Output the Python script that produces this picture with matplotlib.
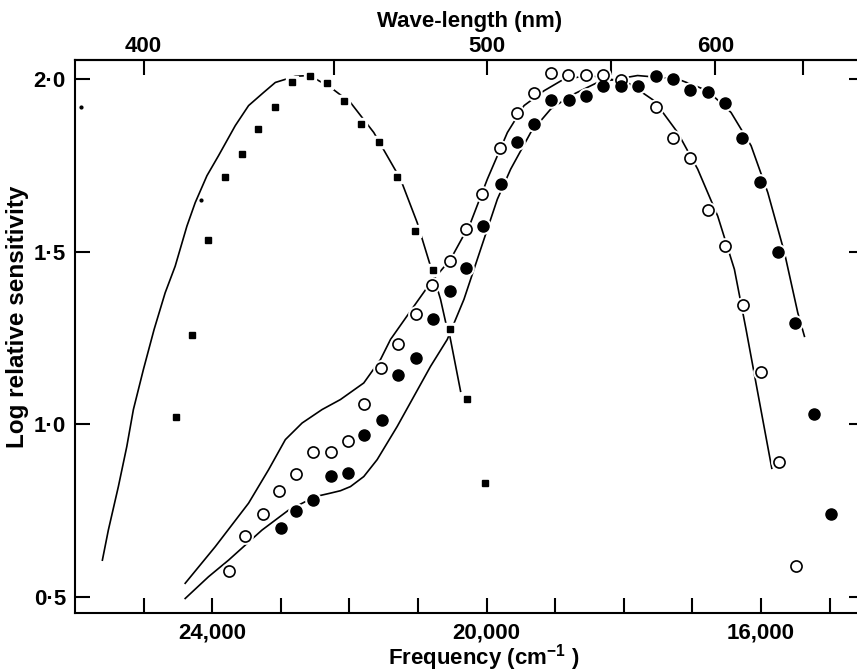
import matplotlib
matplotlib.use("Agg")
import matplotlib.pyplot as plt

plt.rcParams["font.family"] = ["Liberation Sans", "DejaVu Sans"]
plt.rcParams["font.weight"] = "bold"
plt.rcParams["mathtext.fontset"] = "custom"
plt.rcParams["mathtext.rm"] = "Liberation Sans:bold"
plt.rcParams["mathtext.default"] = "rm"

# Measured points (frequency in cm-1, log relative sensitivity)
square_freq = [24521, 24296, 24058, 23820, 23572, 23333, 23080, 22832, 22580,
               22331, 22083, 21830, 21567, 21304, 21041, 20788, 20536, 20282,
               20025]
square_val = [1.020, 1.259, 1.533, 1.716, 1.782, 1.856, 1.920, 1.991, 2.008,
              1.989, 1.937, 1.869, 1.819, 1.716, 1.561, 1.446, 1.275, 1.074,
              0.831]

open_freq = [23762, 23518, 23266, 23022, 22778, 22536, 22273, 22025, 21791,
             21537, 21285, 21032, 20793, 20536, 20302, 20063, 19806, 19562,
             19309, 19066, 18813, 18555, 18302, 18044, 17528, 17280, 17032,
             16778, 16521, 16258, 16000, 15742, 15489]
open_val = [0.576, 0.677, 0.741, 0.808, 0.857, 0.919, 0.919, 0.951, 1.060,
            1.162, 1.234, 1.321, 1.405, 1.474, 1.565, 1.666, 1.799, 1.903,
            1.959, 2.016, 2.012, 2.012, 2.012, 1.998, 1.920, 1.829, 1.770,
            1.620, 1.516, 1.345, 1.153, 0.892, 0.590]

filled_freq = [22997, 22774, 22530, 22273, 22025, 21781, 21528, 21285, 21032,
               20788, 20536, 20302, 20054, 19796, 19552, 19309, 19066, 18807,
               18555, 18297, 18044, 17791, 17533, 17289, 17032, 16778, 16526,
               16277, 16010, 15756, 15504, 15236, 14978]
filled_val = [0.699, 0.748, 0.780, 0.851, 0.859, 0.970, 1.012, 1.143, 1.193,
              1.304, 1.386, 1.454, 1.574, 1.697, 1.819, 1.869, 1.940, 1.940,
              1.952, 1.981, 1.981, 1.981, 2.008, 2.000, 1.969, 1.961, 1.930,
              1.829, 1.702, 1.500, 1.294, 1.030, 0.740]

speck_freq = [25917, 24161]
speck_val = [1.918, 1.651]

# Fitted curves
square_curve_freq = [25601, 25514, 25368, 25245, 25149, 25003, 24847, 24686,
                     24540, 24369, 24248, 24077, 23908, 23664, 23470, 23251,
                     23080, 22788, 22580, 22277, 21985, 21645, 21255, 21012,
                     20818, 20672, 20574, 20536, 20380]
square_curve_val = [0.607, 0.694, 0.820, 0.936, 1.043, 1.159, 1.275, 1.381,
                    1.458, 1.574, 1.642, 1.720, 1.778, 1.865, 1.923, 1.961,
                    1.990, 2.008, 2.010, 1.976, 1.932, 1.845, 1.710, 1.584,
                    1.458, 1.362, 1.275, 1.255, 1.096]

open_curve_freq = [24394, 23956, 23470, 23178, 22934, 22690, 22399, 22131,
                   21791, 21547, 21401, 21061, 20818, 20526, 20234, 19990,
                   19698, 19455, 19163, 18871, 18482, 17946, 17557, 17216,
                   16924, 16632, 16389, 16219, 16030, 15844]
open_curve_val = [0.540, 0.646, 0.772, 0.869, 0.956, 1.004, 1.043, 1.072,
                  1.120, 1.188, 1.246, 1.342, 1.410, 1.478, 1.584, 1.710,
                  1.845, 1.923, 1.966, 2.000, 2.010, 1.990, 1.937, 1.845,
                  1.739, 1.603, 1.449, 1.275, 1.072, 0.873]

filled_curve_freq = [24394, 24054, 23762, 23275, 22886, 22496, 22277, 22131,
                     21985, 21791, 21596, 21450, 21304, 21061, 20818, 20574,
                     20331, 20039, 19844, 19650, 19358, 19066, 18774, 18384,
                     17801, 17216, 16778, 16438, 16146, 15902, 15659, 15465,
                     15368]
filled_curve_val = [0.496, 0.559, 0.607, 0.694, 0.752, 0.791, 0.801, 0.808,
                    0.820, 0.849, 0.898, 0.946, 0.994, 1.081, 1.168, 1.246,
                    1.362, 1.536, 1.652, 1.739, 1.845, 1.913, 1.952, 1.990,
                    2.010, 2.000, 1.966, 1.903, 1.807, 1.671, 1.497, 1.323,
                    1.255]

# Axis ticks
freq_ticks = [25000, 24000, 23000, 22000, 21000, 20000, 19000, 18000, 17000,
              16000, 15000]
freq_labels = ["", "24,000", "", "", "", "20,000", "", "", "", "16,000", ""]
wl_ticks = [400, 450, 500, 550, 600, 650]
wl_labels = ["400", "", "500", "", "600", ""]
y_ticks = [0.5, 1.0, 1.5, 2.0]
y_labels = ["0·5", "1·0", "1·5", "2·0"]

fig = plt.figure(figsize=(8.57, 6.71), dpi=100)
ax = fig.add_axes([75 / 857, 58 / 671, 789 / 857, 553 / 671])

lw = 1.2
ax.plot(square_curve_freq, square_curve_val, color="black", lw=lw, zorder=1)
ax.plot(open_curve_freq, open_curve_val, color="black", lw=lw, zorder=1)
ax.plot(filled_curve_freq, filled_curve_val, color="black", lw=lw, zorder=1)

# white halos break the curves around the symbols, as in the drawing
ax.plot(square_freq, square_val, "s", ms=8, color="white", zorder=2)
ax.plot(open_freq, open_val, "o", ms=11, color="white", zorder=2)
ax.plot(filled_freq, filled_val, "o", ms=11, color="white", zorder=2)

ax.plot(square_freq, square_val, "s", ms=5, color="black", zorder=3)
ax.plot(open_freq, open_val, "o", ms=8, mfc="white", mec="black", mew=1.2,
        zorder=3)
ax.plot(filled_freq, filled_val, "o", ms=8, color="black", zorder=3)
ax.plot(speck_freq, speck_val, "o", ms=2, color="black", zorder=3)

ax.set_xlim(26000, 14500)
ax.set_ylim(0.454, 2.055)

for s in ax.spines.values():
    s.set_linewidth(1.5)

ax.set_xticks(freq_ticks)
ax.set_xticklabels(freq_labels)
ax.set_yticks(y_ticks)
ax.set_yticklabels(y_labels)
ax.tick_params(axis="both", direction="in", length=11, width=1.5,
               labelsize=16, right=True)
ax.tick_params(axis="x", pad=7)
ax.tick_params(axis="y", pad=6.5)

top = ax.secondary_xaxis("top", functions=(lambda f: 1e7 / f,
                                            lambda w: 1e7 / w))
top.set_xticks(wl_ticks)
top.set_xticklabels(wl_labels)
top.tick_params(direction="in", length=11, width=1.5, labelsize=16, pad=2.5)
top.spines["top"].set_linewidth(1.5)
top.set_xlabel("Wave-length (nm)", fontsize=16, fontweight="bold", labelpad=6)

ax.set_xlabel("Frequency (cm$^{-1}$ )", fontsize=16, fontweight="bold")
ax.xaxis.set_label_coords(0.518, -0.052)
ax.set_ylabel("Log relative sensitivity", fontsize=17.5, fontweight="bold")
ax.yaxis.set_label_coords(-0.058, 0.535)

fig.savefig("out.png", dpi=100)
